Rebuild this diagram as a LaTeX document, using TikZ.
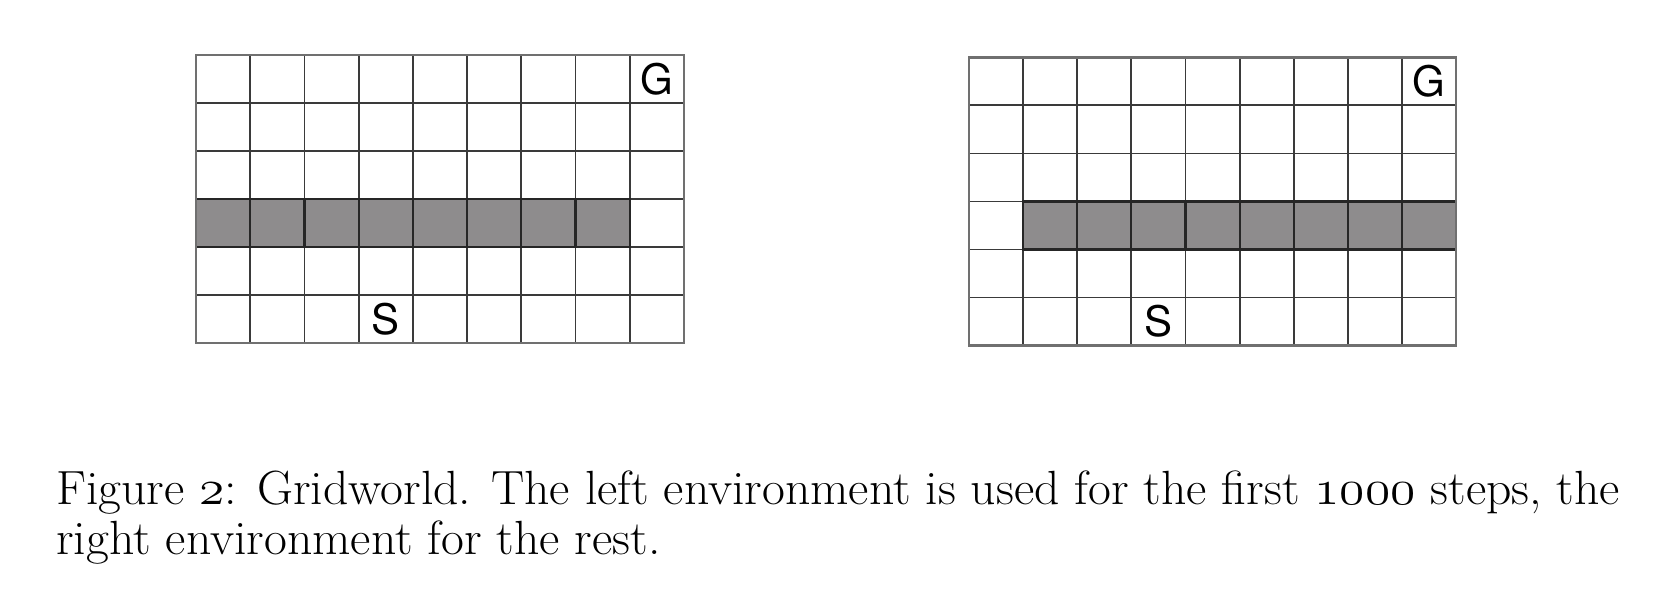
\documentclass[tikz,border=0pt]{standalone}
\usepackage{fontspec}
\newfontfamily\gridfont{TeX Gyre Heros}
\newcommand\osnum[1]{{\usefont{OML}{cmm}{m}{it}#1}}
\definecolor{wallgray}{HTML}{8E8C8D}
\definecolor{linegray}{HTML}{3A3A3A}
\definecolor{bordergray}{HTML}{707070}
\tikzset{
  gridline/.style={draw=linegray, line width=0.9pt},
  gridborder/.style={draw=bordergray, line width=1.3pt},
  wall/.style={fill=wallgray, draw=black!85, line width=1.1pt},
  letter/.style={font=\gridfont\fontsize{21}{21}\selectfont, inner sep=0pt},
  captxt/.style={anchor=base west, inner sep=0pt, font=\fontsize{24}{28}\selectfont}
}
\begin{document}
\begin{tikzpicture}[x=0.5pt, y=-0.5pt]
\useasboundingbox (0,0) rectangle (1662,614);
% ---------- left grid ----------
\begin{scope}[shift={(196,55)}, x=27.11pt, y=-24pt]
  \fill[wallgray] (0,3) rectangle (8,4);
  \foreach \i in {1,...,8} \draw[gridline] (\i,0) -- (\i,6);
  \foreach \j in {1,...,5} \draw[gridline] (0,\j) -- (9,\j);
  \draw[wall] (0,3) rectangle (8,4);
  \foreach \i in {1,...,7} \draw[draw=black!85, line width=1.1pt] (\i,3) -- (\i,4);
  \draw[gridborder] (0,0) rectangle (9,6);
  \node[letter] (G1) at (8.5,0.5) {G};
  \node[letter] (S1) at (3.5,5.5) {S};
\end{scope}
% ---------- right grid ----------
\begin{scope}[shift={(969,57.3)}, x=27.06pt, y=-24.03pt]
  \fill[wallgray] (1,3) rectangle (9,4);
  \foreach \i in {1,...,8} \draw[gridline] (\i,0) -- (\i,6);
  \foreach \j in {1,...,5} \draw[gridline] (0,\j) -- (9,\j);
  \draw[wall] (1,3) rectangle (9,4);
  \foreach \i in {2,...,8} \draw[draw=black!85, line width=1.1pt] (\i,3) -- (\i,4);
  \draw[gridborder] (0,0) rectangle (9,6);
  \node[letter] (G2) at (8.5,0.5) {G};
  \node[letter] (S2) at (3.5,5.5) {S};
\end{scope}
% ---------- caption ----------
\node[captxt] (cap1) at (56,505) {\scalebox{1.035}[1]{Figure \osnum{2}: Gridworld. The left environment is used for the first \osnum{1000} steps, the}};
\node[captxt] (cap2) at (56,555) {\scalebox{1.035}[1]{right environment for the rest.}};
\end{tikzpicture}
\end{document}
